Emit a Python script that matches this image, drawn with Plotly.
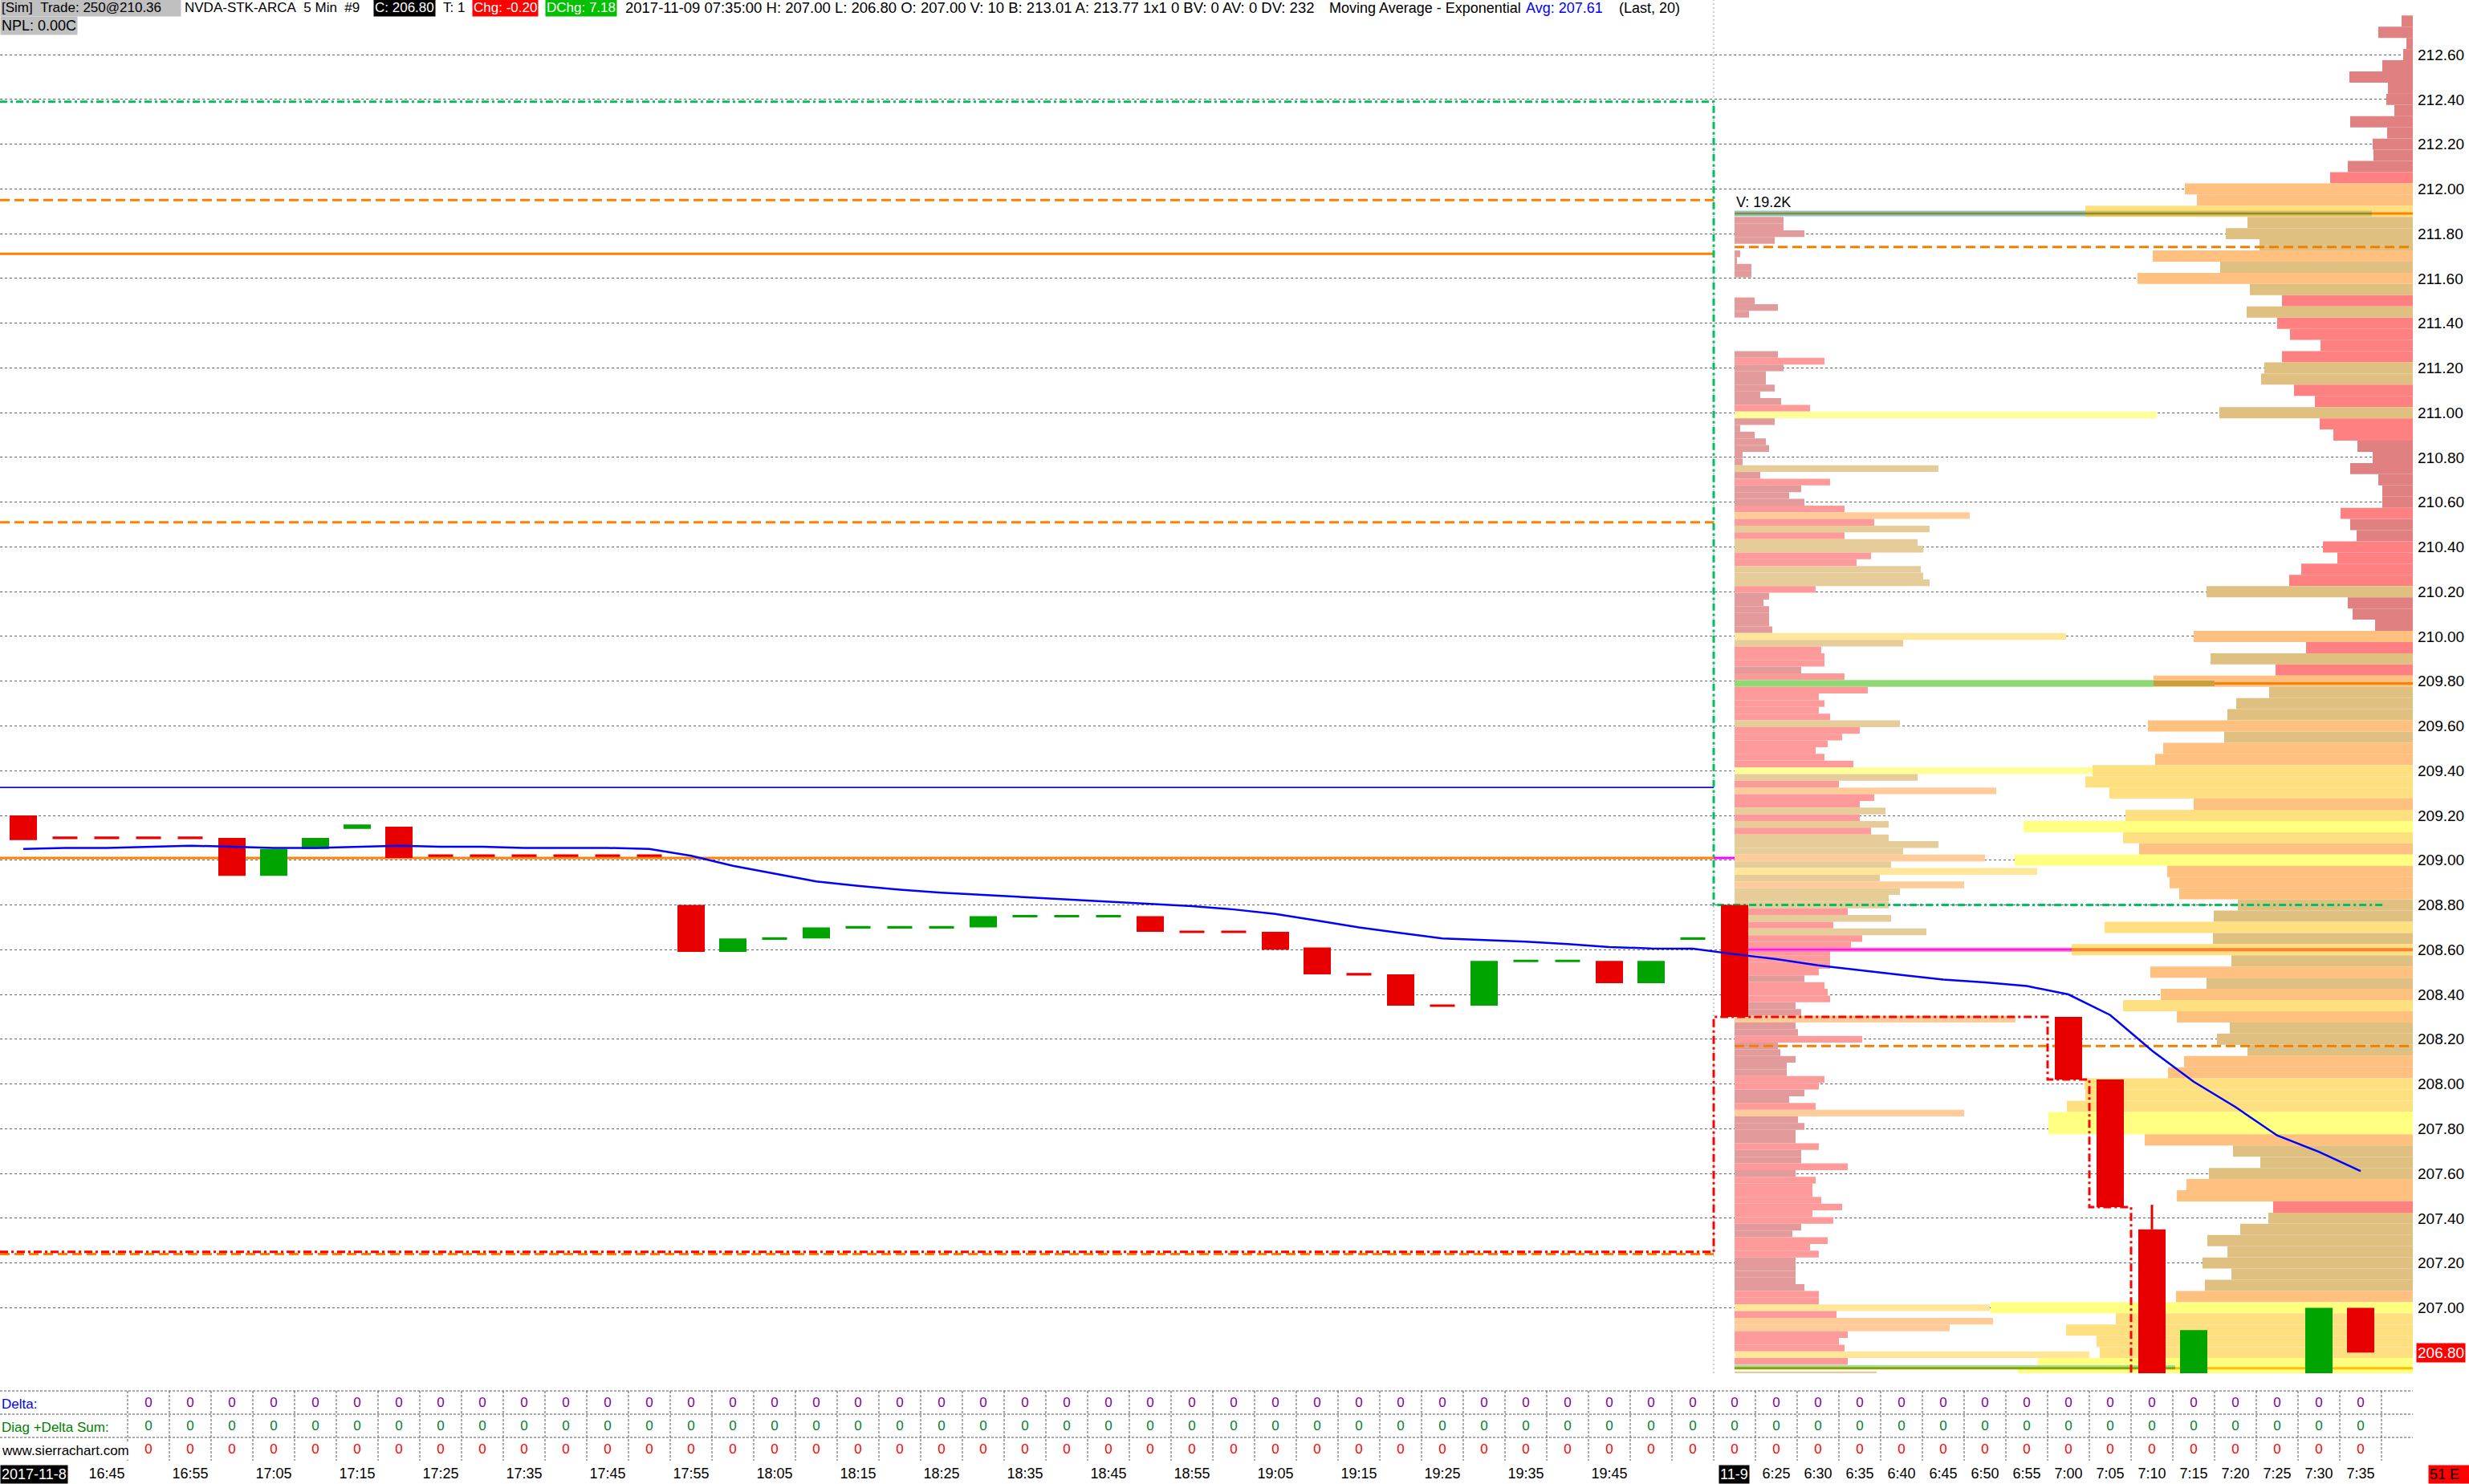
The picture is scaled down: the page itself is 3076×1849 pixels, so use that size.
import plotly.graph_objects as go

# ======================= DATA =======================
bar_times = ["16:35", "16:40", "16:45", "16:50", "16:55", "17:00", "17:05", "17:10", "17:15", "17:20",
             "17:25", "17:30", "17:35", "17:40", "17:45", "17:50", "17:55", "18:00", "18:05", "18:10",
             "18:15", "18:20", "18:25", "18:30", "18:35", "18:40", "18:45", "18:50", "18:55", "19:00",
             "19:05", "19:10", "19:15", "19:20", "19:25", "19:30", "19:35", "19:40", "19:45", "19:50",
             "19:55", "6:20", "6:25", "6:30", "6:35", "6:40", "6:45", "6:50", "6:55", "7:00",
             "7:05", "7:10", "7:15", "7:20", "7:25", "7:30", "7:35"]
date_first = "2017-11-8"
date_second = "11-9"

opens = [209.20, 209.10, 209.10, 209.10, 209.10, 209.10, 208.93, 209.05, 209.14, 209.15,
         209.02, 209.02, 209.02, 209.02, 209.02, 209.02, 208.80, 208.59, 208.65, 208.65,
         208.70, 208.70, 208.70, 208.70, 208.75, 208.75, 208.75, 208.75, 208.68, 208.68,
         208.68, 208.61, 208.49, 208.49, 208.35, 208.35, 208.55, 208.55, 208.55, 208.45,
         208.65, 208.80, None, None, None, None, None, None, None, 208.30,
         208.02, 207.35, 206.60, None, None, 206.60, 207.00]
closes = [209.09, 209.10, 209.10, 209.10, 209.10, 208.93, 209.05, 209.10, 209.16, 209.01,
          209.02, 209.02, 209.02, 209.02, 209.02, 209.02, 208.59, 208.65, 208.65, 208.70,
          208.70, 208.70, 208.70, 208.75, 208.75, 208.75, 208.75, 208.68, 208.68, 208.68,
          208.60, 208.49, 208.49, 208.35, 208.35, 208.55, 208.55, 208.55, 208.45, 208.55,
          208.65, 208.30, None, None, None, None, None, None, None, 208.02,
          207.45, 206.60, 206.90, None, None, 207.00, 206.80]
highs = [209.20, 209.10, 209.10, 209.10, 209.10, 209.10, 209.05, 209.10, 209.16, 209.15,
         209.02, 209.02, 209.02, 209.02, 209.02, 209.02, 208.80, 208.65, 208.65, 208.70,
         208.70, 208.70, 208.70, 208.75, 208.75, 208.75, 208.75, 208.75, 208.68, 208.68,
         208.68, 208.61, 208.49, 208.49, 208.35, 208.55, 208.55, 208.55, 208.55, 208.55,
         208.65, 208.80, None, None, None, None, None, None, None, 208.30,
         208.02, 207.46, 206.90, None, None, 207.00, 207.00]

ema20 = [209.05, 209.055, 209.055, 209.06, 209.065, 209.06, 209.055, 209.055, 209.06, 209.065,
         209.06, 209.06, 209.055, 209.055, 209.055, 209.05, 209.02, 208.975, 208.94, 208.905,
         208.885, 208.868, 208.855, 208.845, 208.835, 208.825, 208.815, 208.805, 208.795, 208.78,
         208.76, 208.73, 208.70, 208.675, 208.65, 208.643, 208.636, 208.625, 208.612, 208.606,
         208.605, 208.58, 208.558, 208.53, 208.508, 208.487, 208.467, 208.454, 208.438, 208.40,
         208.308, 208.149, 208.01, 207.897, 207.77, 207.697, 207.611]

delta_row = [0, 0, 0, 0, 0, 0, 0, 0, 0, 0, 0, 0, 0, 0, 0, 0, 0, 0, 0, 0, 0, 0, 0, 0, 0, 0, 0,
             0, 0, 0, 0, 0, 0, 0, 0, 0, 0, 0, 0, 0, 0, 0, 0, 0, 0, 0, 0, 0, 0, 0, 0, 0, 0, 0]
diag_row = [0, 0, 0, 0, 0, 0, 0, 0, 0, 0, 0, 0, 0, 0, 0, 0, 0, 0, 0, 0, 0, 0, 0, 0, 0, 0, 0,
            0, 0, 0, 0, 0, 0, 0, 0, 0, 0, 0, 0, 0, 0, 0, 0, 0, 0, 0, 0, 0, 0, 0, 0, 0, 0, 0]
third_row = [0, 0, 0, 0, 0, 0, 0, 0, 0, 0, 0, 0, 0, 0, 0, 0, 0, 0, 0, 0, 0, 0, 0, 0, 0, 0, 0,
             0, 0, 0, 0, 0, 0, 0, 0, 0, 0, 0, 0, 0, 0, 0, 0, 0, 0, 0, 0, 0, 0, 0, 0, 0, 0, 0]

price_ticks = [212.60, 212.40, 212.20, 212.00, 211.80, 211.60, 211.40, 211.20, 211.00, 210.80,
               210.60, 210.40, 210.20, 210.00, 209.80, 209.60, 209.40, 209.20, 209.00, 208.80,
               208.60, 208.40, 208.20, 208.00, 207.80, 207.60, 207.40, 207.20, 207.00]
last_price = 206.80

# levels (prices)
blue_level = 209.325
orange_solid_levels = [211.71, 209.01]
orange_dash_levels = [211.95, 210.51, 207.24]
profile_dash_levels = [211.74, 208.17]
poc_level = 208.60
hvn_level = 211.89
green_band_level = 209.79
bottom_level = 206.73
green_step_levels = [212.39, 208.80]
stop_levels = [207.25, 208.30, 208.02, 207.45, 206.55]
stop_change_bars = [41, 49, 50, 51]

# right (session) volume profile, 0.05 rows
rp_price = [212.75, 212.70, 212.65, 212.60, 212.55, 212.50, 212.45, 212.40, 212.35, 212.30,
            212.25, 212.20, 212.15, 212.10, 212.05, 212.00, 211.95, 211.90, 211.85, 211.80,
            211.75, 211.70, 211.65, 211.60, 211.55, 211.50, 211.45, 211.40, 211.35, 211.30,
            211.25, 211.20, 211.15, 211.10, 211.05, 211.00, 210.95, 210.90, 210.85, 210.80,
            210.75, 210.70, 210.65, 210.60, 210.55, 210.50, 210.45, 210.40, 210.35, 210.30,
            210.25, 210.20, 210.15, 210.10, 210.05, 210.00, 209.95, 209.90, 209.85, 209.80,
            209.75, 209.70, 209.65, 209.60, 209.55, 209.50, 209.45, 209.40, 209.35, 209.30,
            209.25, 209.20, 209.15, 209.10, 209.05, 209.00, 208.95, 208.90, 208.85, 208.80,
            208.75, 208.70, 208.65, 208.60, 208.55, 208.50, 208.45, 208.40, 208.35, 208.30,
            208.25, 208.20, 208.15, 208.10, 208.05, 208.00, 207.95, 207.90, 207.85, 207.80,
            207.75, 207.70, 207.65, 207.60, 207.55, 207.50, 207.45, 207.40, 207.35, 207.30,
            207.25, 207.20, 207.15, 207.10, 207.05, 207.00, 206.95, 206.90, 206.85, 206.80,
            206.75, 206.70]
rp_vol = [14, 43, 8, 12, 38, 79, 31, 33, 23, 78,
          32, 50, 49, 81, 103, 284, 269, 408, 206, 233,
          191, 324, 240, 343, 203, 163, 207, 169, 153, 115,
          163, 185, 189, 148, 122, 241, 116, 99, 69, 50,
          78, 43, 38, 38, 90, 78, 70, 112, 94, 139,
          154, 257, 81, 75, 47, 273, 133, 252, 171, 323,
          179, 220, 231, 330, 235, 311, 321, 399, 408, 378,
          273, 358, 485, 361, 341, 496, 306, 303, 291, 218,
          248, 384, 249, 425, 226, 327, 257, 314, 361, 294,
          228, 244, 206, 285, 305, 409, 408, 431, 454, 454,
          334, 224, 190, 254, 282, 294, 174, 180, 215, 256,
          231, 262, 226, 259, 295, 526, 370, 432, 394, 390,
          467, 492]
rp_kind = ("DDDDDDDDDD" "DDDDSOOYTT" "TOTOTSTSSS" "STTSSTSSDD" "DDDDSDDSSS" "STDDDOSTSO"
           "TTTOTOOYYY" "OYBYOBOOOT" "TYTYTOTOYO" "TTTOOYYYBB" "OTTTOOSTTT" "TTTTOBYYYY" "BB")

# left (composite) volume profile, 0.03 rows
lp_price = [211.86, 211.83, 211.80, 211.77, 211.74, 211.71, 211.68, 211.65, 211.62, 211.59,
            211.56, 211.53, 211.50, 211.47, 211.44, 211.41, 211.38, 211.35, 211.32, 211.29,
            211.26, 211.23, 211.20, 211.17, 211.14, 211.11, 211.08, 211.05, 211.02, 210.99,
            210.96, 210.93, 210.90, 210.87, 210.84, 210.81, 210.78, 210.75, 210.72, 210.69,
            210.66, 210.63, 210.60, 210.57, 210.54, 210.51, 210.48, 210.45, 210.42, 210.39,
            210.36, 210.33, 210.30, 210.27, 210.24, 210.21, 210.18, 210.15, 210.12, 210.09,
            210.06, 210.03, 210.00, 209.97, 209.94, 209.91, 209.88, 209.85, 209.82, 209.79,
            209.76, 209.73, 209.70, 209.67, 209.64, 209.61, 209.58, 209.55, 209.52, 209.49,
            209.46, 209.43, 209.40, 209.37, 209.34, 209.31, 209.28, 209.25, 209.22, 209.19,
            209.16, 209.13, 209.10, 209.07, 209.04, 209.01, 208.98, 208.95, 208.92, 208.89,
            208.86, 208.83, 208.80, 208.77, 208.74, 208.71, 208.68, 208.65, 208.62, 208.59,
            208.56, 208.53, 208.50, 208.47, 208.44, 208.41, 208.38, 208.35, 208.32, 208.29,
            208.26, 208.23, 208.20, 208.17, 208.14, 208.11, 208.08, 208.05, 208.02, 207.99,
            207.96, 207.93, 207.90, 207.87, 207.84, 207.81, 207.78, 207.75, 207.72, 207.69,
            207.66, 207.63, 207.60, 207.57, 207.54, 207.51, 207.48, 207.45, 207.42, 207.39,
            207.36, 207.33, 207.30, 207.27, 207.24, 207.21, 207.18, 207.15, 207.12, 207.09,
            207.06, 207.03, 207.00, 206.97, 206.94, 206.91, 206.88, 206.85, 206.82, 206.79,
            206.76, 206.73, 206.70]
lp_vol = [61, 61, 87, 50, 0, 7, 3, 21, 21, 0,
          0, 0, 25, 54, 18, 0, 0, 0, 0, 0,
          54, 112, 61, 39, 39, 50, 32, 58, 94, 526,
          50, 7, 25, 39, 43, 10, 10, 254, 32, 119,
          83, 68, 87, 137, 293, 174, 243, 137, 228, 235,
          170, 152, 232, 235, 243, 101, 43, 36, 43, 43,
          43, 47, 413, 210, 108, 112, 112, 83, 137, 522,
          166, 105, 112, 105, 119, 206, 156, 134, 116, 101,
          112, 148, 464, 228, 130, 326, 174, 156, 188, 156,
          192, 170, 192, 254, 210, 312, 195, 377, 181, 286,
          206, 192, 192, 141, 195, 123, 239, 159, 145, 119,
          119, 119, 105, 87, 112, 116, 119, 76, 83, 350,
          76, 79, 159, 54, 57, 76, 65, 65, 112, 105,
          87, 68, 101, 286, 79, 87, 76, 76, 105, 83,
          83, 141, 76, 101, 97, 97, 108, 134, 97, 123,
          83, 72, 116, 94, 105, 76, 76, 76, 76, 87,
          105, 105, 318, 127, 322, 268, 141, 130, 137, 442,
          141, 0, 177]
lp_kind = ("DDDDDDDDDD" "DDDDDDDDDD" "DSDDDDDDSB" "DDDDDDDTDS" "DDDSOSTSTT" "SSTTTSDDDD"
           "DDYTSSSDSG" "SSSSSTSSSS" "SSBTSOSSTS" "TSTTTOTYTO" "TTTSTSTSSS" "SSSDSSSDDO"
           "DDSDDDDDSS" "DDSODDDDSD" "DSDSSSSSSS" "DDSSSDDDDD" "SSYSOOSSSY" "SDT")

# ======================= LAYOUT CONSTANTS =======================
W, H = 3076, 1849
X0PX, XSTEP = 29.0, 52.0          # px of bar 0 centre, px per bar
PLOT_RIGHT_PX = 3006.0
PRICE_BOTTOM_PX = 1711.0
REF_PX, REF_P, PPD = 68.1, 212.6, 278.8


def px2x(px):
    return (px - X0PX) / XSTEP


def px2p(py):
    return REF_P - (py - REF_PX) / PPD


XL = px2x(0)
XR = px2x(PLOT_RIGHT_PX)
Y_TOP = px2p(0)
Y_BOT = px2p(PRICE_BOTTOM_PX)
SESSION_X = 40.5
PROFILE_BASE = 41.0

FONT = "Liberation Sans, Arial, sans-serif"
RED = "#E80000"
GREEN = "#00A400"
ORANGE = "#FF8000"

LP_COLORS = {"D": "#E39A9A", "S": "#FF9A9A", "T": "#E6CC99", "O": "#FFCC99",
             "Y": "#FFE699", "B": "#FFFF99", "G": "#99DD77"}
RP_COLORS = {"D": "#E08080", "S": "#FF8080", "T": "#DFC080", "O": "#FFC080",
             "Y": "#FFE080", "B": "#FFFF80"}

fig = go.Figure()

# ---------- volume profiles ----------
fig.add_trace(go.Bar(
    orientation="h", y=lp_price, x=[v / XSTEP for v in lp_vol], base=PROFILE_BASE,
    width=0.03, marker=dict(color=[LP_COLORS[k] for k in lp_kind], line=dict(width=0)),
    hoverinfo="skip", showlegend=False, xaxis="x", yaxis="y"))
fig.add_trace(go.Bar(
    orientation="h", y=rp_price, x=[v / XSTEP for v in rp_vol],
    base=[XR - v / XSTEP for v in rp_vol],
    width=0.05, marker=dict(color=[RP_COLORS[k] for k in rp_kind], line=dict(width=0)),
    hoverinfo="skip", showlegend=False, xaxis="x", yaxis="y"))


def seg(x0, x1, y, color, width, dash=None, opacity=1.0):
    fig.add_trace(go.Scatter(x=[x0, x1], y=[y, y], mode="lines",
                             line=dict(color=color, width=width, dash=dash),
                             opacity=opacity, hoverinfo="skip", showlegend=False))


# session divider (dotted vertical)
fig.add_trace(go.Scatter(x=[SESSION_X, SESSION_X], y=[Y_BOT, Y_TOP], mode="lines",
                         line=dict(color="#999999", width=1, dash="2px,3px"),
                         hoverinfo="skip", showlegend=False))

# left-part level lines
seg(XL, SESSION_X, blue_level, "#1010E0", 1.6)
for lv in orange_solid_levels:
    seg(XL, SESSION_X, lv, ORANGE, 3)
for lv in orange_dash_levels:
    seg(XL, SESSION_X, lv, ORANGE, 3, dash="12px,6px")
seg(SESSION_X, PROFILE_BASE, orange_solid_levels[1], "#FF00FF", 3)

# profile-area levels
for lv in profile_dash_levels:
    seg(PROFILE_BASE, XR, lv, "#F08000", 3, dash="12px,6px")
seg(PROFILE_BASE + 0.33, px2x(2581), poc_level, "#FF6AD5", 5)
seg(PROFILE_BASE + 0.33, px2x(2581), poc_level, "#FF00E0", 1.5)
seg(px2x(2581), XR, poc_level, "#FF8030", 4)
seg(PROFILE_BASE, px2x(2598), hvn_level, "#8EC6C6", 7)
seg(px2x(2598), px2x(2955), hvn_level, "rgba(190,165,60,0.55)", 7)
seg(PROFILE_BASE, px2x(2955), hvn_level, "#8F8A2E", 2.5)
seg(px2x(2955), XR, hvn_level, ORANGE, 3)
seg(PROFILE_BASE, px2x(2683), green_band_level, "#8FD874", 7)
seg(px2x(2683), px2x(2759), green_band_level, "#C8A040", 7)
seg(px2x(2759), XR, green_band_level, ORANGE, 3)
seg(PROFILE_BASE, px2x(2710), bottom_level + 0.006, "#9BE39B", 4)
seg(PROFILE_BASE, px2x(2710), bottom_level, "#8FA000", 3)
seg(px2x(2710), XR, bottom_level, "#FFC000", 3)

# stepped green dashed line (range box)
fig.add_trace(go.Scatter(
    x=[XL, SESSION_X, px2x(2971)], y=[green_step_levels[0], green_step_levels[1], green_step_levels[1]],
    mode="lines", line=dict(color="#00C060", width=3, dash="9px,4px,3px,4px", shape="hv"),
    hoverinfo="skip", showlegend=False))

# stepped red dashed stop line
stop_x = [XL] + [b - 0.5 for b in stop_change_bars]
fig.add_trace(go.Scatter(
    x=stop_x, y=stop_levels, mode="lines",
    line=dict(color="#FF0000", width=3, dash="10px,4px,3px,4px", shape="hv"),
    hoverinfo="skip", showlegend=False))

# ---------- candles ----------
BODY_HW = 17.0 / XSTEP
DASH_HW = 15.5 / XSTEP
DASH_HH = 1.6 / PPD
paths = {"up": ([], []), "dn": ([], [])}
wick = {"up": ([], []), "dn": ([], [])}
prev_up = False
for i, (o, c, h) in enumerate(zip(opens, closes, highs)):
    if o is None:
        continue
    up = True if c > o else (False if c < o else prev_up)
    prev_up = up
    key = "up" if up else "dn"
    if o == c:
        hw, y0, y1 = DASH_HW, o - DASH_HH, o + DASH_HH
    else:
        hw, y0, y1 = BODY_HW, min(o, c), max(o, c)
    xs, ys = paths[key]
    xs += [i - hw, i + hw, i + hw, i - hw, i - hw, None]
    ys += [y0, y0, y1, y1, y0, None]
    if h is not None and h > max(o, c) + 0.005:
        wx, wy = wick[key]
        wx += [i, i, None]
        wy += [max(o, c), h, None]

for key, col in (("up", GREEN), ("dn", RED)):
    wx, wy = wick[key]
    if wx:
        fig.add_trace(go.Scatter(x=wx, y=wy, mode="lines", line=dict(color=col, width=3),
                                 hoverinfo="skip", showlegend=False))
    xs, ys = paths[key]
    fig.add_trace(go.Scatter(x=xs, y=ys, mode="lines", fill="toself", fillcolor=col,
                             line=dict(width=0, color=col), hoverinfo="skip", showlegend=False))

# EMA
fig.add_trace(go.Scatter(x=list(range(len(ema20))), y=ema20, mode="lines",
                         line=dict(color="#0000FF", width=2.5), hoverinfo="skip", showlegend=False))

# ---------- bottom table (x2 / y2 in pixel rows) ----------
ROW_Y = [1749, 1778, 1807]
TIME_Y = 1837
first_cell = len(bar_times) - len(delta_row)
cell_x = list(range(first_cell, len(bar_times)))

hx, hy = [], []
for yy in (1733, 1762, 1791):
    hx += [XL, XR, None]
    hy += [yy, yy, None]
for b in range(first_cell - 1, len(bar_times)):
    hx += [b + 0.5, b + 0.5, None]
    hy += [1733, 1820, None]
fig.add_trace(go.Scatter(x=hx, y=hy, mode="lines", line=dict(color="#555555", width=1, dash="3px,2px"),
                         xaxis="x2", yaxis="y2", hoverinfo="skip", showlegend=False))

for vals, yy, col in ((delta_row, ROW_Y[0], "#8000A0"), (diag_row, ROW_Y[1], "#008030"),
                      (third_row, ROW_Y[2], "#FF0000")):
    fig.add_trace(go.Scatter(x=cell_x, y=[yy] * len(vals), mode="text", text=[str(v) for v in vals],
                             textfont=dict(family=FONT, size=17, color=col), textposition="middle center",
                             xaxis="x2", yaxis="y2", hoverinfo="skip", showlegend=False))

lbl_idx = [i for i in range(2, 39, 2)] + [i for i in range(42, len(bar_times))]
fig.add_trace(go.Scatter(x=lbl_idx, y=[TIME_Y] * len(lbl_idx), mode="text",
                         text=[bar_times[i] for i in lbl_idx],
                         textfont=dict(family=FONT, size=18, color="black"), textposition="middle center",
                         xaxis="x2", yaxis="y2", hoverinfo="skip", showlegend=False))

# ---------- annotations ----------
ann = []


def pyp(py):
    return 1 - py / H


def text_at(xpx, ypx, text, color="black", bg=None, size=17, xanchor="left", width=None):
    d = dict(xref="paper", yref="paper", x=xpx / W, y=pyp(ypx), text=text, showarrow=False,
             xanchor=xanchor, yanchor="middle", font=dict(family=FONT, size=size, color=color),
             borderpad=1)
    if bg:
        d["bgcolor"] = bg
    if width:
        d["width"] = width
        d["align"] = "left"
    ann.append(d)


NB = "\u00a0"
text_at(0, 10, "[Sim]" + NB * 2 + "Trade: 250@210.36", bg="#C0C0C0", width=222)
text_at(228, 10, "NVDA-STK-ARCA" + NB * 2 + "5 Min" + NB * 2 + "#9")
text_at(465, 10, "C: 206.80", color="white", bg="black")
text_at(550, 10, "T: 1")
text_at(588, 10, "Chg: -0.20", color="white", bg="#FF0000")
text_at(679, 10, "DChg: 7.18", color="white", bg="#00C000")
text_at(777, 10, "2017-11-09 07:35:00 H: 207.00 L: 206.80 O: 207.00 V: 10 B: 213.01 A: 213.77 1x1 0 BV: 0 AV: 0 DV: 232",
        size=18.5)
text_at(1654, 10, "Moving Average - Exponential", size=18)
text_at(1899, 10, "Avg: 207.61", color="#0000FF", size=18)
text_at(2015, 10, "(Last, 20)", size=18)
text_at(0, 32, "NPL: 0.00C", bg="#C0C0C0", size=18)

text_at(0, ROW_Y[0], "Delta:", color="#0000FF")
text_at(0, ROW_Y[1], "Diag +Delta Sum:", color="#008000")
text_at(0, ROW_Y[2], "www.sierrachart.com", bg="white")

text_at(0, TIME_Y, date_first, color="white", bg="black", xanchor="left", size=18)
text_at(2160, TIME_Y, date_second, color="white", bg="black", xanchor="center", size=18)
text_at(3051, TIME_Y, "51 E", color="black", bg="#FF0000", xanchor="center", width=48, size=18)

ann.append(dict(xref="paper", yref="y", x=3010 / W, y=last_price, text=f"{last_price:.2f}",
                showarrow=False, xanchor="left", yanchor="middle", bgcolor="#FF0000",
                font=dict(family=FONT, size=19, color="white"), borderpad=1))
ann.append(dict(xref="x", yref="y", x=PROFILE_BASE, y=px2p(252), text="V: 19.2K", showarrow=False,
                xanchor="left", yanchor="middle", font=dict(family=FONT, size=18, color="black")))

# ---------- layout ----------
y_split = 1 - PRICE_BOTTOM_PX / H
fig.update_layout(
    width=W, height=H, margin=dict(l=0, r=0, t=0, b=0),
    paper_bgcolor="white", plot_bgcolor="white", barmode="overlay", showlegend=False,
    xaxis=dict(domain=[0, PLOT_RIGHT_PX / W], range=[XL, XR], visible=False, fixedrange=True),
    yaxis=dict(domain=[y_split, 1], range=[Y_BOT, Y_TOP], side="right",
               tickvals=price_ticks, ticktext=[f"{p:.2f}" for p in price_ticks],
               ticks="", ticklabelstandoff=5, automargin=False,
               tickfont=dict(family=FONT, size=19, color="black"),
               showgrid=True, gridcolor="#666666", gridwidth=1, griddash="dot",
               zeroline=False, showline=False, fixedrange=True),
    xaxis2=dict(domain=[0, PLOT_RIGHT_PX / W], range=[XL, XR], anchor="y2", visible=False),
    yaxis2=dict(domain=[0, y_split], range=[H, PRICE_BOTTOM_PX], anchor="x2", visible=False),
    annotations=ann,
    font=dict(family=FONT),
)

fig.write_html("out.html",
               config={"displayModeBar": False},
               post_script="document.body.style.margin='0px';document.body.style.padding='0px';"
                           "document.body.style.overflow='hidden';")
